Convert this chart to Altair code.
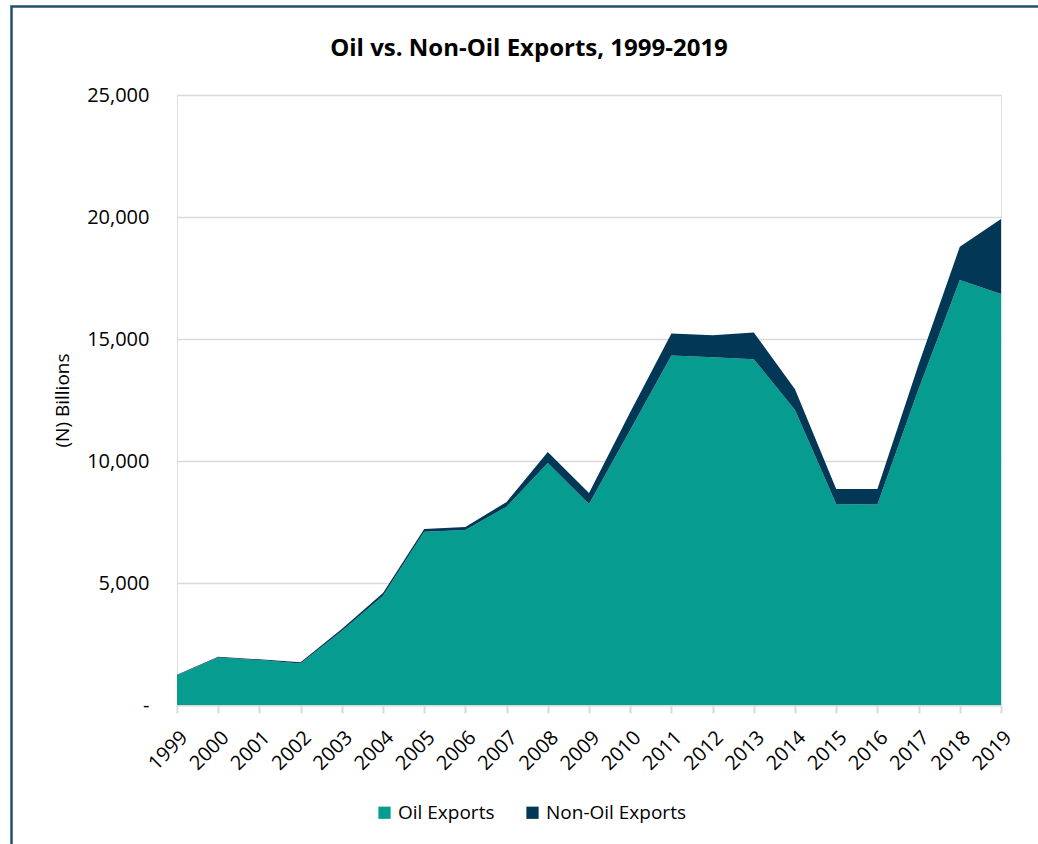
import altair as alt
import pandas as pd

years = list(range(1999, 2020))
oil = [1220, 1950, 1840, 1700, 3030, 4480, 7100, 7170, 8130, 9920, 8240, 11270,
       14320, 14250, 14170, 12090, 8240, 8220, 12950, 17420, 16840]
non_oil = [20, 25, 30, 50, 80, 110, 110, 130, 190, 450, 450, 730,
           910, 900, 1100, 850, 610, 630, 1000, 1360, 3080]
series = ["Oil Exports", "Non-Oil Exports"]
colors = ["#069C8F", "#023755"]

rows = []
for y, o, n in zip(years, oil, non_oil):
    rows.append({"Year": str(y), "Series": series[0], "Value": o, "ord": 0})
    rows.append({"Year": str(y), "Series": series[1], "Value": n, "ord": 1})
df = pd.DataFrame(rows)

FONT = "Open Sans"

area = alt.Chart(df).mark_area(opacity=1).encode(
    x=alt.X("Year:O", scale=alt.Scale(type="point", padding=0),
            axis=alt.Axis(title=None, labelAngle=-45, labelFontSize=20,
                          labelColor="#000000", labelFont=FONT,
                          domainColor="#D9D9D9", domainWidth=2,
                          tickColor="#D9D9D9", tickWidth=2, tickSize=8,
                          labelPadding=14, grid=False)),
    y=alt.Y("Value:Q", stack="zero",
            scale=alt.Scale(domain=[0, 25000], nice=False),
            axis=alt.Axis(title="(N) Billions", values=[0, 5000, 10000, 15000, 20000, 25000],
                          labelExpr="datum.value == 0 ? '-' : format(datum.value, ',')",
                          labelFontSize=20, labelColor="#000000", labelFont=FONT,
                          titleFontSize=19, titleFont=FONT, titleFontWeight="normal",
                          titleColor="#000000", titlePadding=14,
                          domain=False, ticks=False, labelPadding=28,
                          gridColor="#D9D9D9", gridWidth=1.5)),
    color=alt.Color("Series:N", scale=alt.Scale(domain=series, range=colors),
                    legend=alt.Legend(title=None, orient="none", direction="horizontal",
                                      legendX=198, legendY=708, symbolType="square",
                                      symbolSize=150, symbolStrokeWidth=0,
                                      labelFontSize=19, labelFont=FONT,
                                      labelColor="#000000", columnPadding=28,
                                      symbolOpacity=1)),
    order=alt.Order("ord:Q", sort="ascending"),
)

frame = alt.Chart(pd.DataFrame({"a": [0]})).mark_rect(
    fillOpacity=0, stroke="#24506E", strokeWidth=2.5, clip=False
).encode(
    x=alt.value(-165.5), x2=alt.value(900),
    y=alt.value(-88.5), y2=alt.value(800),
)

chart = alt.layer(area, frame).properties(
    width=824, height=610,
    autosize=alt.AutoSizeParams(type="none"),
    padding={"left": 177, "top": 95, "right": 37, "bottom": 139},
    title=alt.TitleParams("Oil vs. Non-Oil Exports, 1999-2019", fontSize=24,
                          font=FONT, fontWeight="bold", color="#000000",
                          anchor="middle", dx=-60, offset=0, dy=56),
).configure_view(stroke=None).configure(background="white")

chart.save("out.html", embed_options={"renderer": "svg", "actions": False})
